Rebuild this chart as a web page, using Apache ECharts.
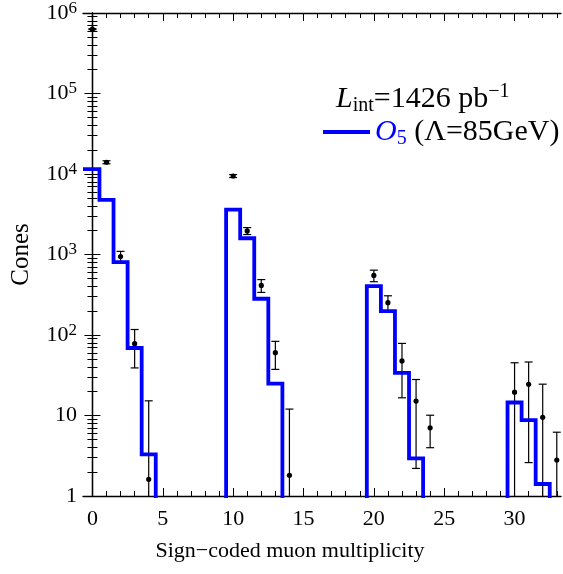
<!DOCTYPE html>
<html>
<head>
<meta charset="utf-8">
<script src="https://cdn.jsdelivr.net/npm/echarts@6/dist/echarts.min.js"></script>
<style>html,body{margin:0;padding:0;background:#fff}#c{width:563px;height:574px}</style>
</head>
<body>
<div id="c"></div>
<script>
// ---- data ----
const bins = [0,1,2,3,4,5,6,7,8,9,10,11,12,13,14,15,16,17,18,19,20,21,22,23,24,25,26,27,28,29,30,31,32,33];
const simValues = [11500,4770,802,68.9,3.29,0,0,0,0,0,3610,1592,282,24.9,0,0,0,0,0,0,405,198,33.8,2.93,0,0,0,0,0,0,14.5,8.75,1.41,0];
const dataX   = [0,1,2,3,4,10,11,12,13,14,20,21,22,23,24,30,31,32,33];
const dataY   = [630000,14000,944,78,1.61,9440,1965,413,60.4,1.81,549,252,47.6,15.1,7.03,19.5,24.4,9.5,2.8];
const dataErr = [8000,600,150,39,13.6,400,195,75,23,10.2,90,55,31,12.9,3.05,25.7,21.8,15,3.4];
const xMajorTicks = [0,5,10,15,20,25,30];
const xMinorTicks = [0,1,2,3,4,5,6,7,8,9,10,11,12,13,14,15,16,17,18,19,20,21,22,23,24,25,26,27,28,29,30,31,32,33];
const yMinorMultipliers = [2,3,4,5,6,7,8,9];
const yDecades = [0,1,2,3,4,5];
const X_MIN = -0.67, X_MAX = 33.3;
const Y_MIN = 1, Y_MAX = 1e6;
const FLOOR = 1e-3;

// ---- build ----
const FONT = 'Liberation Serif';
const stepData = [];
bins.forEach((b, i) => {
  const v = simValues[i] > 0 ? simValues[i] : FLOOR;
  const left = i === 0 ? X_MIN : b - 0.5;
  stepData.push([left, v], [b + 0.5, v]);
});
const errData = dataX.map((x, i) => [x, dataY[i], Math.max(dataY[i] - dataErr[i], FLOOR), dataY[i] + dataErr[i]]);
const yMinorTickVals = [];
yDecades.forEach(d => yMinorMultipliers.forEach(m => yMinorTickVals.push(d + Math.log10(m))));

const tickStyle = {color: '#000', width: 1};
const lineStyle = {color: '#000', width: 1.3};
const richLabel = {
  b: {fontSize: 22, fontFamily: FONT, color: '#000', lineHeight: 26},
  s: {fontSize: 17, fontFamily: FONT, color: '#000', lineHeight: 14, verticalAlign: 'top'}
};

const chart = echarts.init(document.getElementById('c'), null, {renderer: 'canvas'});
const xCommon = {type: 'value', min: X_MIN, max: X_MAX, gridIndex: 0, splitLine: {show: false}};
const yCommonLog = {type: 'log', logBase: 10, min: Y_MIN, max: Y_MAX, splitLine: {show: false}};
const yCommonLin = {type: 'value', min: 0, max: 6, splitLine: {show: false}};

chart.setOption({
  animation: false,
  backgroundColor: '#fff',
  grid: {left: 83, top: 12, width: 478, height: 484, containLabel: false},
  legend: {
    left: 323, top: 117, padding: 0, itemWidth: 47, itemHeight: 4, itemGap: 0, itemTextGap: 6,
    icon: 'rect',
    data: ['O5'],
    formatter: () => '{o|O}{sub|5}{t| (Λ=85GeV)}',
    textStyle: {
      rich: {
        o: {fontSize: 30, fontFamily: FONT, fontStyle: 'italic', color: '#0000ff', lineHeight: 34},
        sub: {fontSize: 20, fontFamily: FONT, color: '#0000ff', lineHeight: 18, verticalAlign: 'bottom'},
        t: {fontSize: 30, fontFamily: FONT, color: '#000', lineHeight: 34}
      }
    }
  },
  graphic: [{
    type: 'text', left: 336, top: 82, z: 100,
    style: {
      text: '{L|L}{sub|int}{t|=1426 pb}{sup|−1}',
      rich: {
        L: {fontSize: 30, fontFamily: FONT, fontStyle: 'italic', color: '#000', lineHeight: 34},
        sub: {fontSize: 20, fontFamily: FONT, color: '#000', lineHeight: 18, verticalAlign: 'bottom'},
        t: {fontSize: 30, fontFamily: FONT, color: '#000', lineHeight: 34},
        sup: {fontSize: 20, fontFamily: FONT, color: '#000', lineHeight: 16, verticalAlign: 'top'}
      }
    }
  }],
  xAxis: [
    Object.assign({}, xCommon, {
      position: 'bottom',
      axisLine: {show: true, lineStyle: lineStyle},
      axisTick: {show: true, inside: true, length: 8, customValues: xMajorTicks, lineStyle: tickStyle},
      axisLabel: {show: true, customValues: xMajorTicks, fontSize: 22, fontFamily: FONT, color: '#000', margin: 12},
      name: 'Sign\u2212coded muon multiplicity', nameLocation: 'middle', nameGap: 44,
      nameTextStyle: {fontSize: 22, fontFamily: FONT, color: '#000', padding: [0, 64, 0, 0]}
    }),
    Object.assign({}, xCommon, {
      position: 'bottom',
      axisLine: {show: false},
      axisTick: {show: true, inside: true, length: 5, customValues: xMinorTicks, lineStyle: tickStyle},
      axisLabel: {show: false}
    }),
    Object.assign({}, xCommon, {
      position: 'top',
      axisLine: {show: true, lineStyle: lineStyle},
      axisTick: {show: true, inside: true, length: 8, customValues: xMajorTicks, lineStyle: tickStyle},
      axisLabel: {show: false}
    }),
    Object.assign({}, xCommon, {
      position: 'top',
      axisLine: {show: false},
      axisTick: {show: true, inside: true, length: 5, customValues: xMinorTicks, lineStyle: tickStyle},
      axisLabel: {show: false}
    })
  ],
  yAxis: [
    Object.assign({}, yCommonLog, {
      position: 'left',
      axisLine: {show: true, lineStyle: lineStyle},
      axisTick: {show: true, inside: true, length: 8, lineStyle: tickStyle},
      axisLabel: {
        show: true, margin: 6, rich: richLabel,
        formatter: v => {
          const e = Math.round(Math.log10(v));
          if (e === 0) return '{b|1}';
          if (e === 1) return '{b|10}';
          return '{b|10}{s|' + e + '}';
        }
      },
      name: 'Cones', nameLocation: 'middle', nameGap: 49,
      nameTextStyle: {fontSize: 25, fontFamily: FONT, color: '#000'}
    }),
    Object.assign({}, yCommonLog, {
      position: 'right',
      axisLine: {show: true, lineStyle: lineStyle},
      axisTick: {show: true, inside: true, length: 8, lineStyle: tickStyle},
      axisLabel: {show: false}
    }),
    Object.assign({}, yCommonLin, {
      position: 'left',
      axisLine: {show: false},
      axisTick: {show: true, inside: true, length: 5, customValues: yMinorTickVals, lineStyle: tickStyle},
      axisLabel: {show: false}
    }),
    Object.assign({}, yCommonLin, {
      position: 'right',
      axisLine: {show: false},
      axisTick: {show: true, inside: true, length: 5, customValues: yMinorTickVals, lineStyle: tickStyle},
      axisLabel: {show: false}
    })
  ],
  series: [
    {
      type: 'custom', name: 'data', xAxisIndex: 0, yAxisIndex: 0, clip: true, z: 2,
      data: errData,
      renderItem: (params, api) => {
        const x = api.value(0);
        const c = api.coord([x, api.value(1)]);
        const lo = api.coord([x, api.value(2)]);
        const hi = api.coord([x, api.value(3)]);
        const w = 4;
        const st = {stroke: '#000', lineWidth: 1.2};
        const children = [
          {type: 'line', shape: {x1: hi[0], y1: hi[1], x2: lo[0], y2: lo[1]}, style: st},
          {type: 'line', shape: {x1: hi[0] - w, y1: hi[1], x2: hi[0] + w, y2: hi[1]}, style: st},
          {type: 'circle', shape: {cx: c[0], cy: c[1], r: 2.6}, style: {fill: '#000'}}
        ];
        if (api.value(2) > FLOOR) {
          children.push({type: 'line', shape: {x1: lo[0] - w, y1: lo[1], x2: lo[0] + w, y2: lo[1]}, style: st});
        }
        return {type: 'group', children: children};
      }
    },
    {
      type: 'line', name: 'O5', xAxisIndex: 0, yAxisIndex: 0, z: 3,
      data: stepData, showSymbol: false, symbol: 'none', clip: true,
      lineStyle: {color: '#0000ff', width: 3.8, join: 'miter', cap: 'butt'},
      itemStyle: {color: '#0000ff'}
    }
  ]
});
</script>
</body>
</html>
